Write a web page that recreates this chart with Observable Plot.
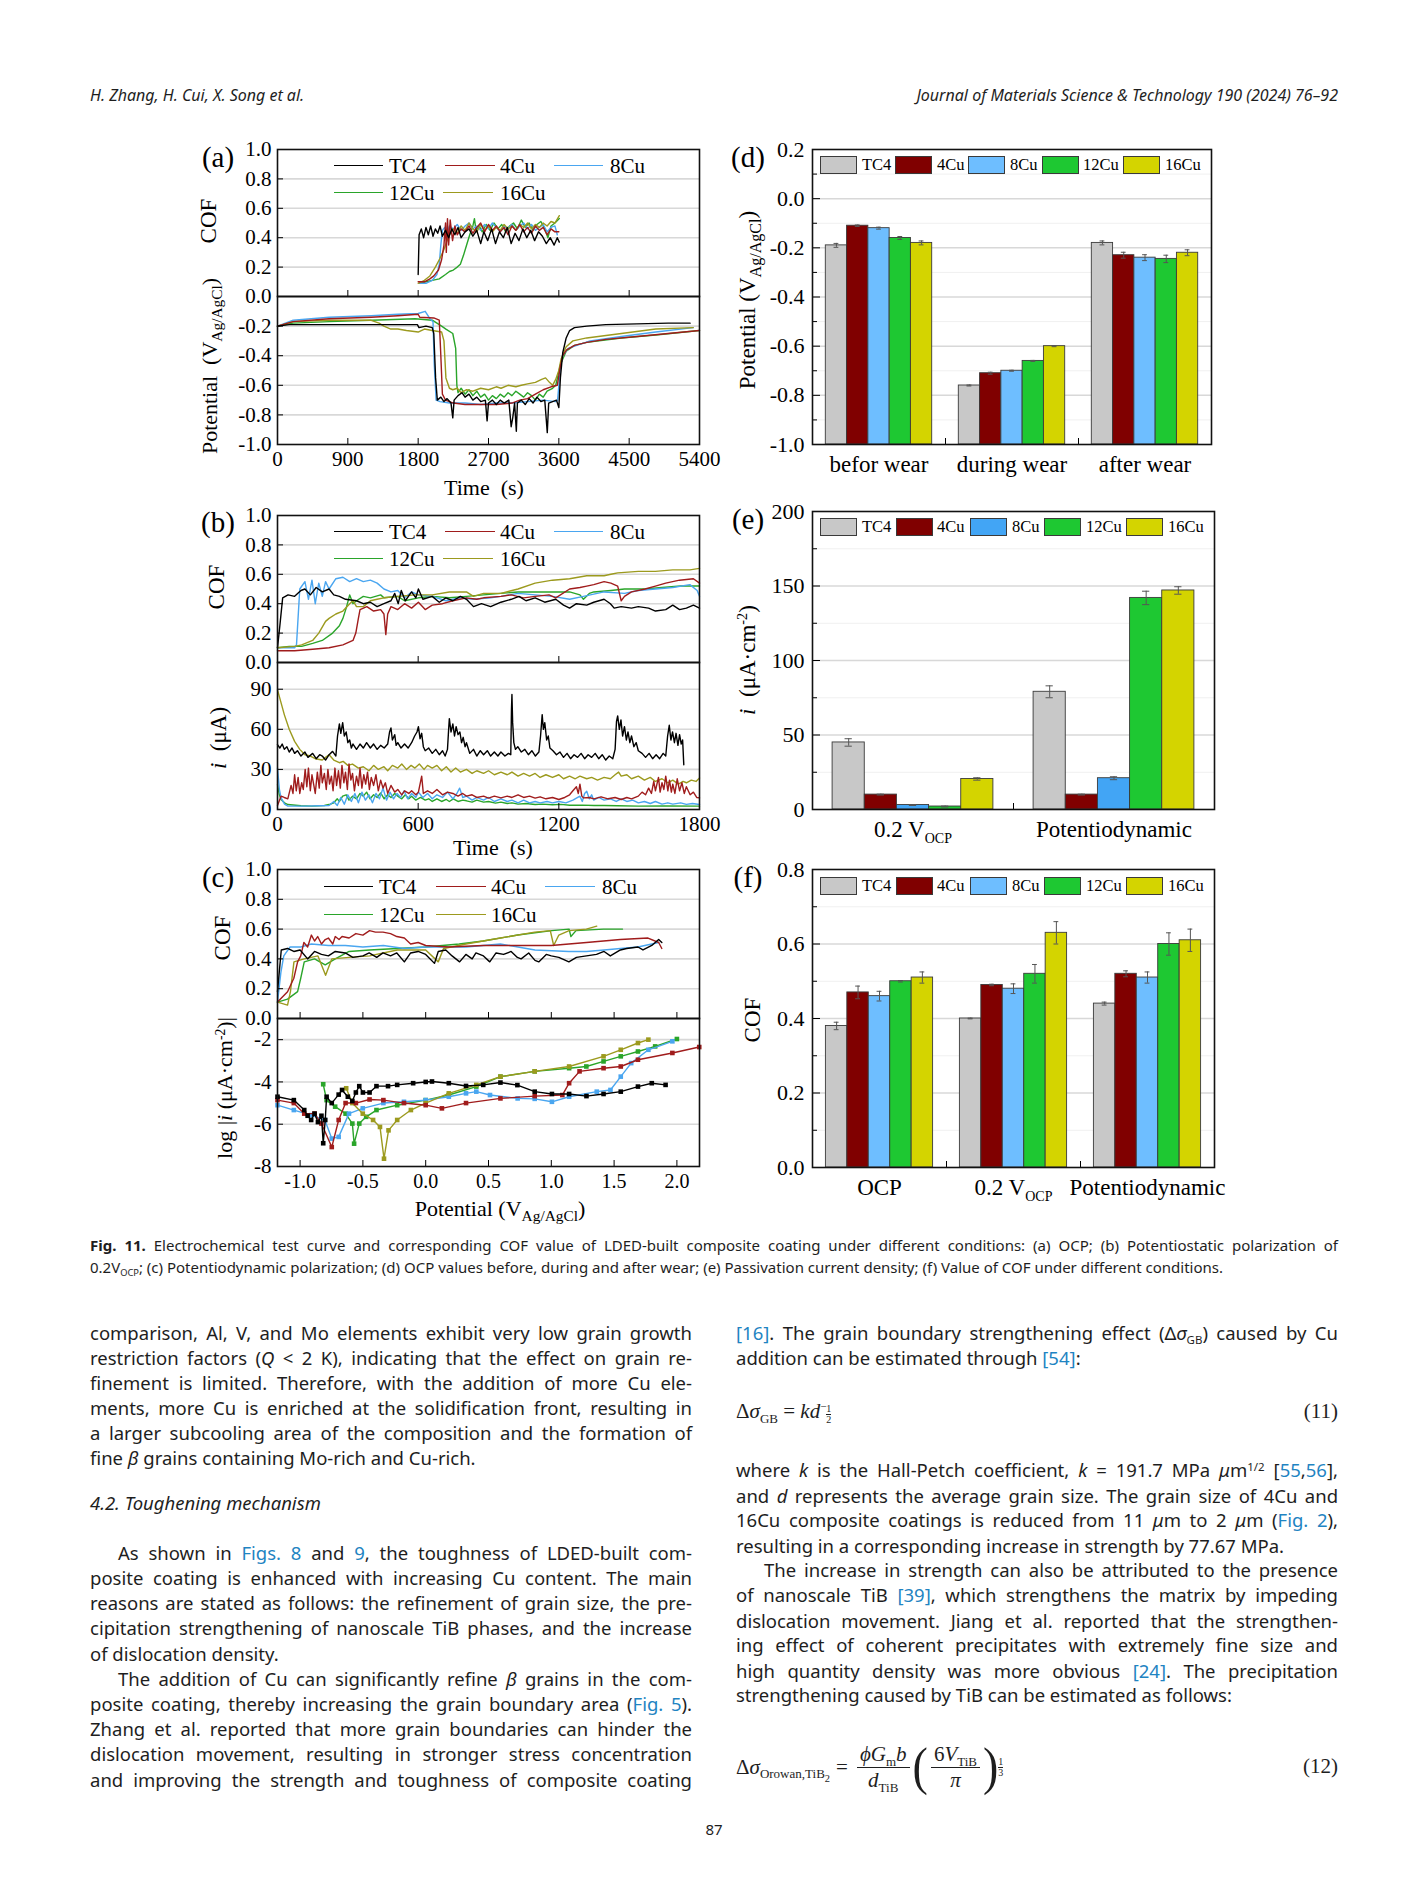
<!DOCTYPE html>
<html><head><meta charset="utf-8">
<script src="https://cdn.jsdelivr.net/npm/d3@7"></script>
<script src="https://cdn.jsdelivr.net/npm/@observablehq/plot@0.6"></script>
<style>
html,body{margin:0;padding:0;background:#fff;}
#page{position:relative;width:1428px;height:1904px;overflow:hidden;background:#fff;}
.abs{position:absolute;white-space:nowrap;}
.ser{font-family:"Liberation Serif","Times New Roman",serif;color:#000;}
.txt{font-family:"Noto Sans","Open Sans",sans-serif;color:#1e1e1e;}
.jl{position:absolute;text-align:justify;text-align-last:justify;line-height:25px;font-size:18.5px;}
.jl.last{text-align:left;text-align-last:left;white-space:nowrap;}
.lk{color:#1f84c2;}
.rot{transform:translate(-50%,-50%) rotate(-90deg);}
.ctr{transform:translate(-50%,-50%);}
sub.s{font-size:62%;vertical-align:-0.35em;line-height:0;}
sub.b{font-size:70%;vertical-align:-0.35em;line-height:0;}
sup.s{font-size:62%;vertical-align:0.55em;line-height:0;}
.eq{font-family:"Liberation Serif","Times New Roman",serif;font-size:21px;color:#1e1e1e;}
.frac{display:inline-flex;flex-direction:column;align-items:center;vertical-align:middle;margin:0 3px;}
.frac>span{padding:0 3px;line-height:25px;}
.frac>span:first-child{border-bottom:1px solid #1e1e1e;}
.sfr{display:inline-flex;flex-direction:column;align-items:center;font-size:10px;line-height:10px;vertical-align:0.6em;}
.sfr>span:first-child{border-bottom:0.8px solid #1e1e1e;}
</style></head><body><div id="page"></div>
<script>
// ---------------- DATA ----------------
const series = ["TC4","4Cu","8Cu","12Cu","16Cu"];
const lineColors = ["#000000","#a01c1c","#4aa6f0","#2aa52a","#9c9a1e"];
const barColors = ["#c8c8c8","#800000","#6ebeff","#1ec832","#d4d400"];
const barColorsE = ["#c8c8c8","#800000","#42a5f5","#1ec832","#d4d400"];

// (a) OCP — COF vs time (s)
const aCof_TC4 = [[1800,0.15],[1812,0.42],[1840,0.46],[1870,0.40],[1900,0.47],[1930,0.42],[1960,0.48],[1990,0.41],[2020,0.46],[2050,0.43],[2080,0.48],[2110,0.41],[2150,0.45],[2190,0.40],[2230,0.46],[2270,0.42],[2310,0.47],[2350,0.40],[2400,0.44],[2450,0.46],[2500,0.41],[2550,0.45],[2600,0.36],[2640,0.44],[2690,0.38],[2740,0.46],[2790,0.36],[2840,0.44],[2890,0.40],[2940,0.47],[2990,0.36],[3040,0.43],[3090,0.38],[3140,0.46],[3190,0.40],[3240,0.45],[3290,0.38],[3340,0.44],[3390,0.41],[3440,0.36],[3490,0.40],[3540,0.35],[3580,0.40],[3606,0.37]];
const aCof_4Cu = [[1800,0.10],[1880,0.10],[1950,0.12],[2000,0.14],[2060,0.18],[2100,0.25],[2130,0.35],[2150,0.50],[2160,0.30],[2175,0.53],[2190,0.35],[2210,0.52],[2240,0.38],[2270,0.48],[2300,0.42],[2350,0.46],[2400,0.44],[2450,0.48],[2500,0.43],[2550,0.47],[2600,0.50],[2650,0.44],[2700,0.49],[2750,0.45],[2800,0.48],[2850,0.44],[2900,0.47],[2950,0.42],[3000,0.48],[3050,0.45],[3100,0.49],[3150,0.44],[3200,0.47],[3250,0.43],[3300,0.48],[3350,0.45],[3400,0.47],[3450,0.42],[3500,0.46],[3550,0.44],[3600,0.44]];
const aCof_8Cu = [[1820,0.09],[1900,0.09],[1980,0.11],[2040,0.15],[2070,0.22],[2090,0.35],[2110,0.45],[2140,0.47],[2170,0.43],[2200,0.48],[2250,0.46],[2300,0.49],[2350,0.45],[2400,0.48],[2450,0.50],[2500,0.46],[2550,0.48],[2600,0.45],[2650,0.49],[2700,0.46],[2750,0.50],[2800,0.47],[2850,0.44],[2900,0.48],[2950,0.46],[3000,0.49],[3050,0.45],[3100,0.48],[3150,0.50],[3200,0.46],[3250,0.49],[3300,0.45],[3350,0.47],[3400,0.49],[3450,0.44],[3500,0.47],[3550,0.48],[3580,0.42]];
const aCof_12Cu = [[1820,0.09],[1900,0.10],[1980,0.11],[2070,0.12],[2150,0.15],[2200,0.17],[2250,0.18],[2300,0.20],[2340,0.22],[2380,0.28],[2420,0.35],[2460,0.42],[2500,0.48],[2520,0.53],[2540,0.45],[2580,0.48],[2620,0.44],[2670,0.49],[2720,0.45],[2770,0.50],[2820,0.46],[2870,0.49],[2920,0.44],[2970,0.48],[3020,0.50],[3070,0.46],[3120,0.52],[3170,0.47],[3220,0.50],[3270,0.45],[3320,0.49],[3370,0.51],[3420,0.46],[3460,0.40],[3500,0.48],[3550,0.50],[3606,0.53]];
const aCof_16Cu = [[1800,0.09],[1880,0.11],[1950,0.14],[2020,0.20],[2080,0.26],[2130,0.32],[2170,0.38],[2200,0.42],[2250,0.46],[2300,0.43],[2350,0.48],[2400,0.45],[2450,0.50],[2500,0.46],[2550,0.44],[2600,0.49],[2650,0.45],[2700,0.48],[2750,0.44],[2800,0.47],[2850,0.45],[2900,0.49],[2950,0.46],[3000,0.48],[3050,0.45],[3100,0.49],[3150,0.47],[3200,0.50],[3250,0.46],[3300,0.49],[3350,0.47],[3400,0.50],[3450,0.48],[3500,0.51],[3550,0.50],[3606,0.55]];
// (a) OCP — potential (V Ag/AgCl) vs time (s)
const aPot_TC4 = [[0,-0.20],[150,-0.19],[600,-0.19],[1200,-0.19],[1790,-0.19],[1810,-0.21],[1900,-0.20],[1980,-0.21],[2000,-0.25],[2023,-0.55],[2045,-0.70],[2090,-0.68],[2130,-0.71],[2170,-0.69],[2220,-0.72],[2243,-0.82],[2260,-0.70],[2310,-0.67],[2360,-0.65],[2400,-0.68],[2450,-0.66],[2500,-0.70],[2550,-0.68],[2600,-0.71],[2660,-0.70],[2682,-0.84],[2700,-0.72],[2750,-0.70],[2800,-0.73],[2850,-0.70],[2900,-0.72],[2960,-0.70],[2990,-0.88],[3010,-0.82],[3034,-0.72],[3056,-0.91],[3070,-0.72],[3120,-0.70],[3170,-0.73],[3220,-0.69],[3270,-0.72],[3320,-0.68],[3370,-0.71],[3420,-0.70],[3452,-0.92],[3470,-0.72],[3520,-0.71],[3570,-0.70],[3600,-0.75],[3620,-0.55],[3650,-0.38],[3694,-0.28],[3738,-0.23],[3800,-0.21],[3957,-0.20],[4200,-0.19],[4600,-0.185],[5000,-0.18],[5280,-0.18]];
const aPot_4Cu = [[0,-0.20],[200,-0.17],[660,-0.15],[1200,-0.14],[1540,-0.13],[1800,-0.12],[1820,-0.14],[2000,-0.145],[2070,-0.16],[2090,-0.40],[2110,-0.66],[2150,-0.70],[2250,-0.72],[2400,-0.73],[2600,-0.73],[2800,-0.73],[3000,-0.72],[3100,-0.70],[3200,-0.69],[3300,-0.66],[3400,-0.63],[3500,-0.61],[3580,-0.60],[3620,-0.47],[3650,-0.40],[3700,-0.36],[3800,-0.33],[3957,-0.31],[4200,-0.29],[4600,-0.27],[5000,-0.25],[5400,-0.23]];
const aPot_8Cu = [[0,-0.20],[200,-0.16],[660,-0.14],[1200,-0.13],[1540,-0.12],[1800,-0.115],[1890,-0.10],[1950,-0.15],[1990,-0.17],[2005,-0.45],[2030,-0.70],[2080,-0.71],[2200,-0.72],[2400,-0.72],[2600,-0.73],[2800,-0.72],[3000,-0.72],[3200,-0.71],[3400,-0.70],[3560,-0.71],[3584,-0.70],[3620,-0.48],[3650,-0.40],[3720,-0.35],[3830,-0.33],[4000,-0.30],[4400,-0.27],[4840,-0.24],[5320,-0.21]];
const aPot_12Cu = [[0,-0.20],[200,-0.18],[660,-0.17],[1200,-0.16],[1760,-0.15],[1980,-0.16],[2100,-0.20],[2155,-0.22],[2243,-0.25],[2280,-0.35],[2295,-0.60],[2310,-0.65],[2350,-0.62],[2400,-0.66],[2450,-0.63],[2500,-0.67],[2550,-0.64],[2600,-0.68],[2650,-0.66],[2700,-0.70],[2750,-0.67],[2800,-0.69],[2850,-0.66],[2900,-0.68],[2950,-0.65],[3000,-0.67],[3050,-0.64],[3100,-0.66],[3150,-0.68],[3200,-0.65],[3250,-0.67],[3300,-0.70],[3350,-0.66],[3400,-0.68],[3450,-0.64],[3520,-0.62],[3560,-0.60],[3620,-0.46],[3694,-0.37],[3800,-0.33],[3957,-0.31],[4400,-0.28],[4840,-0.26],[5400,-0.23]];
const aPot_16Cu = [[0,-0.20],[200,-0.17],[660,-0.16],[1000,-0.16],[1190,-0.16],[1300,-0.18],[1360,-0.20],[1450,-0.22],[1540,-0.22],[1650,-0.23],[1800,-0.24],[1880,-0.22],[1980,-0.23],[2100,-0.24],[2130,-0.30],[2155,-0.55],[2200,-0.62],[2243,-0.63],[2300,-0.62],[2350,-0.65],[2420,-0.63],[2500,-0.64],[2600,-0.62],[2700,-0.63],[2800,-0.61],[2860,-0.62],[2950,-0.60],[3050,-0.61],[3120,-0.60],[3200,-0.59],[3300,-0.58],[3380,-0.56],[3430,-0.55],[3480,-0.58],[3520,-0.60],[3560,-0.56],[3600,-0.50],[3630,-0.42],[3694,-0.34],[3780,-0.30],[3957,-0.28],[4400,-0.25],[4840,-0.22],[5320,-0.21]];

// (b) 0.2 V OCP — COF vs time (s)
const bCof_TC4 = [[0,0.10],[10,0.25],[22,0.44],[45,0.46],[73,0.45],[100,0.49],[117,0.50],[140,0.46],[165,0.51],[191,0.48],[220,0.50],[240,0.46],[264,0.45],[290,0.43],[337,0.42],[366,0.40],[396,0.41],[425,0.38],[454,0.40],[484,0.42],[500,0.47],[515,0.40],[528,0.49],[545,0.42],[572,0.48],[590,0.44],[601,0.50],[620,0.43],[660,0.45],[690,0.41],[718,0.44],[748,0.42],[780,0.45],[806,0.43],[836,0.38],[870,0.40],[909,0.38],[953,0.41],[997,0.43],[1030,0.45],[1060,0.42],[1099,0.44],[1140,0.41],[1187,0.43],[1220,0.39],[1246,0.37],[1275,0.40],[1319,0.39],[1349,0.41],[1393,0.43],[1420,0.40],[1436,0.37],[1466,0.38],[1510,0.37],[1539,0.38],[1583,0.37],[1612,0.35],[1656,0.36],[1686,0.39],[1715,0.36],[1744,0.37],[1774,0.39],[1800,0.37]];
const bCof_4Cu = [[0,0.08],[73,0.08],[150,0.09],[220,0.10],[279,0.12],[322,0.15],[334,0.20],[345,0.30],[352,0.36],[381,0.38],[410,0.35],[440,0.36],[454,0.33],[462,0.19],[470,0.33],[484,0.38],[513,0.36],[542,0.40],[572,0.37],[601,0.41],[630,0.36],[660,0.39],[704,0.40],[748,0.42],[806,0.44],[850,0.43],[879,0.44],[953,0.45],[997,0.46],[1050,0.44],[1099,0.45],[1158,0.46],[1187,0.44],[1246,0.50],[1290,0.51],[1319,0.52],[1349,0.53],[1393,0.55],[1422,0.54],[1451,0.52],[1466,0.42],[1480,0.45],[1510,0.48],[1568,0.50],[1612,0.52],[1656,0.54],[1715,0.56],[1774,0.57],[1800,0.54]];
const bCof_8Cu = [[0,0.10],[73,0.10],[81,0.12],[95,0.50],[117,0.55],[132,0.43],[147,0.56],[161,0.40],[176,0.54],[191,0.45],[205,0.55],[220,0.50],[249,0.57],[279,0.58],[308,0.55],[337,0.57],[366,0.55],[396,0.56],[425,0.54],[454,0.50],[484,0.48],[513,0.49],[542,0.44],[572,0.48],[601,0.46],[660,0.45],[718,0.42],[777,0.44],[836,0.43],[909,0.44],[953,0.45],[1026,0.47],[1099,0.46],[1173,0.45],[1246,0.43],[1305,0.45],[1393,0.48],[1480,0.47],[1539,0.49],[1612,0.50],[1686,0.51],[1759,0.53],[1790,0.49],[1800,0.45]];
const bCof_12Cu = [[0,0.10],[50,0.11],[103,0.11],[150,0.13],[191,0.15],[235,0.20],[264,0.25],[279,0.30],[293,0.37],[308,0.46],[322,0.40],[337,0.42],[366,0.45],[396,0.44],[440,0.46],[454,0.44],[513,0.45],[542,0.42],[601,0.44],[660,0.45],[733,0.44],[806,0.45],[879,0.46],[953,0.47],[1026,0.48],[1099,0.48],[1173,0.48],[1246,0.48],[1290,0.46],[1305,0.43],[1330,0.47],[1349,0.48],[1422,0.49],[1480,0.50],[1568,0.50],[1640,0.51],[1720,0.52],[1800,0.52]];
const bCof_16Cu = [[0,0.10],[73,0.11],[103,0.12],[150,0.15],[176,0.20],[205,0.28],[220,0.30],[249,0.33],[279,0.35],[308,0.40],[322,0.42],[337,0.38],[366,0.38],[396,0.42],[425,0.43],[454,0.44],[513,0.45],[586,0.46],[660,0.46],[733,0.48],[806,0.48],[836,0.45],[879,0.47],[953,0.47],[1026,0.50],[1099,0.54],[1173,0.56],[1246,0.57],[1319,0.59],[1393,0.59],[1422,0.60],[1451,0.61],[1539,0.62],[1612,0.62],[1686,0.63],[1759,0.63],[1800,0.64]];
// (b) current i (μA) vs time (s)
const bCur_TC4 = [[0,48.5],[10,46],[20,49],[29,45],[40,47],[50,43],[62,46],[73,42],[85,44],[100,40],[117,43],[130,39],[150,42],[165,38],[180,41],[191,40],[205,37],[220,41],[235,43.5],[249,40],[256,55],[264,64],[270,57],[278,65],[285,55],[293,58],[300,50],[308,52],[315,46],[322,49],[337,45],[352,49],[366,46],[380,50],[396,46],[410,49],[425,45],[440,48],[455,46],[470,49],[478,58],[484,61],[490,52],[500,56],[506,48],[513,50],[527,46],[542,49],[557,46],[572,50],[585,55],[595,58],[601,62],[608,53],[615,57],[622,47],[630,44],[645,46],[660,42],[675,45],[690,41],[704,44],[715,40],[725,45],[730,60],[733,68],[740,58],[748,64],[755,55],[762,62],[770,56],[778,58],[785,50],[792,54],[800,47],[806,50],[820,42],[836,45],[850,40],[865,44],[879,41],[895,44],[909,40],[925,43],[940,40],[953,43],[970,40],[985,42],[995,41],[998,75],[1000,86],[1003,65],[1008,50],[1015,45],[1025,47],[1040,43],[1055,45],[1070,41],[1085,44],[1100,40],[1115,43],[1122,55],[1129,71],[1134,60],[1140,65],[1148,52],[1155,55],[1162,46],[1175,44],[1190,41],[1205,43],[1220,39],[1235,42],[1250,38],[1265,41],[1280,39],[1295,42],[1310,38],[1325,41],[1340,39],[1355,42],[1370,38],[1385,41],[1400,37],[1415,40],[1430,38],[1440,45],[1446,66],[1451,70],[1458,60],[1465,67],[1472,55],[1480,62],[1488,52],[1495,58],[1503,50],[1510,55],[1520,47],[1530,50],[1539,44],[1555,42],[1570,39],[1585,42],[1600,38],[1615,41],[1630,38],[1645,42],[1656,40],[1664,55],[1671,63],[1678,52],[1685,58],[1693,50],[1700,57],[1708,48],[1715,56],[1722,49],[1728,52],[1733,33.5]];
const bCur_4Cu = [[0,3],[15,10],[29,9],[44,8],[58,18],[66,12],[73,26],[80,14],[88,24],[95,12],[103,20],[110,15],[118,30],[125,17],[132,31],[140,14],[147,26],[155,18],[161,12],[170,28],[178,16],[185,33],[191,20],[200,27],[208,15],[215,30],[222,19],[230,25],[237,14],[245,31],[252,18],[260,29],[268,16],[275,33],[283,20],[290,28],[298,15],[305,34],[313,22],[320,27],[328,14],[337,25],[345,18],[352,31],[360,16],[368,26],[376,19],[384,28],[392,15],[400,24],[410,18],[420,26],[430,14],[440,22],[450,16],[460,20],[470,12],[484,18],[500,13],[513,15],[530,11],[542,14],[560,12],[572,14],[590,11],[601,13],[615,25],[622,12],[640,14],[660,12],[680,15],[704,11],[725,13],[748,12],[770,10],[790,12],[806,10],[830,11],[850,9],[879,10],[900,8.5],[925,10],[953,8.7],[980,10],[1000,9],[1026,11],[1050,9],[1075,10],[1099,8.5],[1120,9.5],[1145,8],[1173,9],[1200,7.5],[1225,9],[1246,11],[1260,14],[1275,17],[1283,12],[1290,19],[1298,10],[1305,8.7],[1330,9],[1350,8],[1380,9.5],[1410,8],[1440,9],[1466,7.5],[1490,9],[1510,8],[1539,10],[1555,13],[1570,11],[1583,16],[1595,12],[1605,21],[1612,14],[1625,24],[1632,13],[1640,20],[1648,15],[1656,25],[1665,14],[1672,22],[1680,13],[1686,19],[1695,12],[1705,23],[1715,14],[1725,20],[1735,12],[1744,17],[1760,11],[1774,13],[1788,9],[1800,8.7]];
const bCur_8Cu = [[0,31],[8,15],[15,8.7],[30,4],[44,2.5],[117,2.5],[180,2.8],[220,3],[240,6],[255,3],[270,9],[285,4],[300,11],[315,6],[330,12],[345,5],[360,13],[375,7],[390,11],[405,5],[420,12],[435,8],[450,16],[465,7],[480,13],[495,8],[510,12],[525,9],[540,14],[555,8],[572,12],[590,9],[601,13],[620,9],[640,12],[660,8],[680,11],[704,9],[725,13],[748,8],[765,12],[777,16],[790,9],[806,10],[830,7],[850,9],[879,7],[900,9],[925,6],[953,8],[980,6],[1000,7],[1026,5],[1050,7],[1075,5],[1099,6],[1120,5],[1150,6],[1173,5],[1200,6],[1230,5],[1260,7],[1290,10],[1300,6],[1310,12],[1319,13.7],[1330,8],[1340,11],[1349,7],[1370,9],[1393,7],[1420,8],[1445,6],[1466,8],[1490,6],[1515,7],[1539,5],[1565,6],[1590,4.5],[1612,6],[1640,4],[1665,5],[1686,4],[1720,5],[1744,3.8],[1770,4.5],[1800,3.7]];
const bCur_12Cu = [[0,18.6],[8,11],[15,7.5],[30,5],[44,3.7],[100,2.8],[147,2.5],[200,3],[220,3.7],[240,5],[255,8],[264,6],[278,10],[293,11],[305,7],[320,10],[337,8],[352,12],[366,10],[380,13],[395,8],[410,11],[425,9],[440,12.4],[455,8],[470,11],[484,9],[500,12],[513,10],[530,8],[545,11],[560,8],[572,10],[590,7],[610,9],[630,7],[645,8],[660,6],[680,8],[700,6],[720,7.5],[733,6],[750,8],[770,6],[790,7],[806,6.5],[830,5.5],[850,7],[879,5.5],[900,6],[930,4.8],[953,5.5],[980,4.5],[1000,5],[1026,4],[1060,4.5],[1099,3.7],[1130,4],[1173,3.5],[1210,3.8],[1246,3.2],[1300,3.3],[1350,3],[1393,3],[1450,2.8],[1539,2.5],[1650,2.6],[1800,2.5]];
const bCur_16Cu = [[0,89.5],[15,80],[29,71],[50,60],[73,51],[95,45],[117,41],[140,40],[161,38],[191,37],[205,39],[220,41],[240,37],[264,35],[280,36],[300,33],[320,34],[345,31],[366,32],[390,29],[410,33],[430,30],[454,32],[470,29],[490,33],[513,31],[530,34],[550,30],[570,33],[586,31],[605,34],[625,30],[640,33],[660,31],[680,33],[700,29],[720,32],[740,28],[760,31],[780,28],[806,30],[830,27],[850,29],[879,27],[900,29],[925,26],[953,28],[980,26],[1000,28],[1026,25],[1050,27],[1075,25],[1099,27],[1120,24],[1145,26],[1173,24],[1200,26],[1220,23],[1246,25],[1270,23],[1290,25],[1319,23],[1340,24],[1365,22],[1393,24],[1420,23],[1440,26],[1455,28],[1466,25],[1490,26],[1510,23],[1539,25],[1565,22],[1590,24],[1612,21],[1640,23],[1665,20],[1686,22],[1710,19],[1730,21],[1744,20],[1765,22],[1785,21],[1800,23.6]];

// (c) Potentiodynamic — COF vs potential (V)
const cCof_TC4 = [[-1.18,0.18],[-1.15,0.46],[-1.10,0.47],[-1.05,0.45],[-1.0,0.46],[-0.94,0.40],[-0.885,0.45],[-0.83,0.43],[-0.775,0.42],[-0.72,0.45],[-0.64,0.44],[-0.58,0.41],[-0.50,0.42],[-0.45,0.44],[-0.39,0.41],[-0.34,0.44],[-0.28,0.42],[-0.23,0.44],[-0.17,0.38],[-0.12,0.44],[-0.06,0.45],[0.0,0.43],[0.07,0.37],[0.10,0.45],[0.16,0.46],[0.21,0.42],[0.27,0.38],[0.32,0.43],[0.37,0.40],[0.40,0.44],[0.46,0.42],[0.51,0.38],[0.56,0.44],[0.62,0.43],[0.68,0.45],[0.73,0.41],[0.76,0.40],[0.82,0.44],[0.87,0.39],[0.90,0.38],[0.96,0.43],[1.0,0.42],[1.06,0.41],[1.14,0.38],[1.2,0.41],[1.28,0.42],[1.36,0.43],[1.42,0.45],[1.47,0.42],[1.55,0.46],[1.6,0.47],[1.69,0.48],[1.73,0.46],[1.80,0.49],[1.855,0.53],[1.88,0.51]];
const cCof_4Cu = [[-1.18,0.11],[-1.10,0.18],[-1.05,0.27],[-1.02,0.38],[-0.995,0.42],[-0.97,0.51],[-0.94,0.48],[-0.91,0.56],[-0.885,0.52],[-0.86,0.55],[-0.83,0.50],[-0.80,0.53],[-0.775,0.54],[-0.74,0.50],[-0.72,0.55],[-0.69,0.53],[-0.666,0.55],[-0.61,0.54],[-0.556,0.57],[-0.50,0.56],[-0.447,0.59],[-0.40,0.58],[-0.34,0.58],[-0.28,0.57],[-0.23,0.55],[-0.17,0.54],[-0.12,0.50],[-0.06,0.51],[0.0,0.49],[0.18,0.48],[0.46,0.49],[0.73,0.49],[1.0,0.49],[1.28,0.51],[1.55,0.53],[1.77,0.54],[1.855,0.51],[1.88,0.47]];
const cCof_8Cu = [[-1.18,0.11],[-1.153,0.31],[-1.13,0.42],[-1.08,0.48],[-0.995,0.48],[-0.91,0.50],[-0.775,0.49],[-0.64,0.49],[-0.50,0.48],[-0.337,0.49],[-0.17,0.47],[0.0,0.48],[0.32,0.48],[0.595,0.50],[0.87,0.46],[1.14,0.45],[1.28,0.45],[1.42,0.46],[1.55,0.47],[1.69,0.48],[1.855,0.51]];
const cCof_12Cu = [[-1.18,0.11],[-1.10,0.13],[-1.02,0.18],[-0.995,0.27],[-0.967,0.38],[-0.885,0.40],[-0.80,0.36],[-0.72,0.40],[-0.61,0.45],[-0.447,0.46],[-0.227,0.47],[0.0,0.48],[0.266,0.50],[0.458,0.52],[0.732,0.56],[1.005,0.59],[1.142,0.60],[1.156,0.55],[1.197,0.59],[1.416,0.60],[1.567,0.60]];
const cCof_16Cu = [[-1.18,0.11],[-1.10,0.09],[-1.077,0.18],[-1.049,0.38],[-0.967,0.40],[-0.858,0.42],[-0.797,0.29],[-0.748,0.40],[-0.611,0.41],[-0.447,0.42],[-0.227,0.46],[0.0,0.46],[0.10,0.38],[0.142,0.47],[0.321,0.50],[0.595,0.54],[0.868,0.58],[0.992,0.59],[1.019,0.49],[1.06,0.56],[1.142,0.59],[1.279,0.60],[1.362,0.62]];
// (c) log|i| (μA·cm-2) vs potential (V)
const cLog_TC4 = [[-1.18,-4.7],[-1.05,-4.86],[-0.967,-5.33],[-0.94,-5.6],[-0.912,-5.8],[-0.885,-5.5],[-0.858,-5.9],[-0.83,-5.6],[-0.816,-6.9],[-0.80,-5.8],[-0.789,-4.7],[-0.748,-5.0],[-0.693,-4.6],[-0.666,-4.38],[-0.62,-4.7],[-0.584,-4.9],[-0.556,-4.5],[-0.529,-4.2],[-0.50,-4.5],[-0.447,-4.5],[-0.392,-4.2],[-0.30,-4.2],[-0.227,-4.14],[-0.10,-4.06],[0.0,-4.0],[0.05,-3.98],[0.184,-4.06],[0.321,-4.19],[0.458,-4.14],[0.595,-4.03],[0.73,-4.15],[0.868,-4.46],[1.005,-4.57],[1.142,-4.57],[1.28,-4.67],[1.416,-4.57],[1.553,-4.46],[1.69,-4.22],[1.80,-4.06],[1.91,-4.14]];
const cLog_4Cu = [[-1.18,-4.86],[-1.05,-5.0],[-0.967,-5.5],[-0.885,-5.5],[-0.83,-5.97],[-0.748,-7.08],[-0.693,-5.8],[-0.638,-5.0],[-0.556,-5.0],[-0.447,-4.83],[-0.337,-4.86],[-0.173,-5.0],[0.0,-5.1],[0.129,-5.25],[0.321,-5.0],[0.595,-4.78],[0.868,-4.67],[1.088,-4.62],[1.142,-4.06],[1.225,-3.5],[1.416,-3.35],[1.553,-3.27],[1.69,-2.95],[1.964,-2.63],[2.178,-2.35]];
const cLog_8Cu = [[-1.18,-5.1],[-1.05,-5.33],[-0.912,-5.57],[-0.803,-5.8],[-0.748,-6.68],[-0.693,-6.6],[-0.611,-5.5],[-0.501,-5.25],[-0.337,-5.0],[-0.173,-4.94],[0.0,-4.86],[0.184,-4.7],[0.321,-4.54],[0.403,-4.46],[0.512,-4.62],[0.732,-4.78],[0.868,-4.8],[1.005,-4.94],[1.142,-4.7],[1.362,-4.46],[1.471,-4.38],[1.553,-3.75],[1.636,-3.11],[1.773,-2.48],[1.964,-2.08]];
const cLog_12Cu = [[-0.816,-4.11],[-0.789,-4.86],[-0.721,-5.17],[-0.638,-5.5],[-0.584,-5.97],[-0.570,-6.92],[-0.529,-5.97],[-0.474,-5.65],[-0.392,-5.33],[-0.227,-5.1],[0.0,-4.86],[0.184,-4.62],[0.403,-4.22],[0.595,-3.75],[0.868,-3.5],[1.142,-3.35],[1.279,-3.27],[1.416,-3.03],[1.553,-2.79],[1.69,-2.56],[1.827,-2.32],[2.0,-1.97]];
const cLog_16Cu = [[-0.633,-4.3],[-0.584,-5.0],[-0.501,-5.5],[-0.419,-5.8],[-0.364,-6.13],[-0.332,-7.63],[-0.296,-6.29],[-0.227,-5.8],[-0.118,-5.33],[0.0,-5.0],[0.184,-4.54],[0.403,-4.14],[0.595,-3.75],[0.868,-3.5],[1.142,-3.27],[1.416,-2.79],[1.553,-2.48],[1.69,-2.16],[1.773,-2.0]];

// (d) OCP values before/during/after wear
const dGroups = ["befor wear","during wear","after wear"];
const dVal = [[-0.19,-0.76,-0.18],[-0.11,-0.71,-0.23],[-0.12,-0.70,-0.24],[-0.16,-0.66,-0.245],[-0.18,-0.60,-0.22]];
const dErr = [[0.008,0.002,0.008],[0.003,0.004,0.012],[0.004,0.002,0.012],[0.006,0.002,0.015],[0.008,0.002,0.012]];
// (e) passivation current density
const eGroups = ["0.2 V_OCP","Potentiodynamic"];
const eVal = [[45,79],[10,10],[3,21],[2,142],[20.5,147]];
const eErr = [[2.5,4],[0.3,0.3],[0.3,1],[0.3,4.5],[0.8,2.5]];
// (f) COF under different conditions
const fGroups = ["OCP","0.2 V_OCP","Potentiodynamic"];
const fVal = [[0.38,0.40,0.44],[0.47,0.49,0.52],[0.46,0.48,0.51],[0.50,0.52,0.60],[0.51,0.63,0.61]];
const fErr = [[0.01,0.001,0.004],[0.017,0.002,0.008],[0.013,0.013,0.015],[0.002,0.025,0.03],[0.015,0.03,0.03]];

// ---------------- HELPERS ----------------
const page = document.getElementById("page");
const SER = '"Liberation Serif","Times New Roman",serif';
function place(node, x, y, w) {
  const d = document.createElement("div");
  d.style.cssText = `position:absolute;left:${x}px;top:${y}px;width:${w}px;`;
  d.appendChild(node); page.appendChild(d);
}
function html(s, style, cls) {
  const d = document.createElement("div");
  d.className = "abs " + (cls || "");
  d.style.cssText = style; d.innerHTML = s; page.appendChild(d); return d;
}
const f1 = d => d.toFixed(1);
const f0 = d => String(d);

function linePlot(o) {
  const ml = 75, mr = 20, mt = 16, mb = o.xTicks ? 48 : 16;
  const W = o.fx2 - o.fx1, H = o.fy2 - o.fy1;
  const fs = o.xfs || 21;
  const marks = [];
  marks.push(Plot.ruleY(o.grid, {y: d => d, stroke: "#d8d8d8", strokeWidth: 1.6}));
  for (const [arr, col] of o.lines) {
    marks.push(Plot.line(arr, {x: d => d[0], y: d => d[1], stroke: col, strokeWidth: 1.4}));
    if (o.markers) marks.push(Plot.dot(arr, {x: d => d[0], y: d => d[1], symbol: "square", r: 2.6, fill: col}));
  }
  marks.push(Plot.tickY(o.yTicks, {y: d => d, insetRight: W - 6, stroke: "#000"}));
  marks.push(Plot.tickX(o.xTickMarks, {x: d => d, insetTop: H - 6, stroke: "#000"}));
  marks.push(Plot.axisY({ticks: o.yTicks, tickFormat: o.yFmt, tickSize: 0, tickPadding: 6, fontSize: 21, label: null}));
  if (o.xTicks) marks.push(Plot.axisX({ticks: o.xTicks, tickFormat: o.xFmt, tickSize: 0, tickPadding: 7, fontSize: fs, label: null}));
  marks.push(Plot.frame({stroke: "#111", strokeWidth: 1.6}));
  const svg = Plot.plot({
    width: W + ml + mr, height: H + mt + mb,
    marginLeft: ml, marginRight: mr, marginTop: mt, marginBottom: mb,
    x: o.xTicks ? {domain: o.xDomain} : {domain: o.xDomain, axis: null},
    y: {domain: o.yDomain},
    style: {fontFamily: SER, fontSize: "21px", color: "#000", background: "transparent", overflow: "visible"},
    marks
  });
  place(svg, o.fx1 - ml, o.fy1 - mt, W + ml + mr);
}

function barPlot(o) {
  const ml = 75, mr = 14, mt = 16, mb = 58;
  const W = o.fx2 - o.fx1, H = o.fy2 - o.fy1;
  const rows = [];
  o.groups.forEach((g, gi) => series.forEach((s, si) => rows.push({gi, si, v: o.vals[si][gi], e: o.errs[si][gi]})));
  const bw = 0.16, off = 0.1, cap = 0.018;
  const X1 = d => d.gi + off + d.si * bw, X2 = d => d.gi + off + (d.si + 1) * bw, XC = d => d.gi + off + (d.si + 0.5) * bw;
  const marks = [
    Plot.ruleY(o.minor, {y: d => d, stroke: "#f0f0f0", strokeWidth: 1}),
    Plot.ruleY(o.grid, {y: d => d, stroke: "#d8d8d8", strokeWidth: 1.5}),
    Plot.rectY(rows, {x1: X1, x2: X2, y1: () => o.base, y2: d => d.v, fill: d => o.colors[d.si], stroke: "#3a3a3a", strokeWidth: 0.9}),
    Plot.ruleX(rows, {x: XC, y1: d => d.v - d.e, y2: d => d.v + d.e, stroke: "#555", strokeWidth: 1}),
    Plot.ruleY(rows, {y: d => d.v + d.e, x1: d => XC(d) - cap, x2: d => XC(d) + cap, stroke: "#555", strokeWidth: 1}),
    Plot.ruleY(rows, {y: d => d.v - d.e, x1: d => XC(d) - cap, x2: d => XC(d) + cap, stroke: "#555", strokeWidth: 1}),
    Plot.tickY(o.minor, {y: d => d, insetRight: W - 5, stroke: "#000"}),
    Plot.tickY(o.yTicks, {y: d => d, insetRight: W - 8, stroke: "#000"}),
    Plot.tickX(o.groups.slice(1).map((g, i) => i + 1), {x: d => d, insetTop: H - 6, stroke: "#000"}),
    Plot.axisY({ticks: o.yTicks, tickFormat: o.yFmt, tickSize: 0, tickPadding: 8, fontSize: 22, label: null}),
    Plot.axisX({ticks: o.groups.map((g, i) => i + 0.5), tickFormat: v => o.groups[Math.floor(v)], tickSize: 0, tickPadding: 11, fontSize: 23, label: null}),
    Plot.frame({stroke: "#111", strokeWidth: 1.6})
  ];
  const svg = Plot.plot({
    width: W + ml + mr, height: H + mt + mb,
    marginLeft: ml, marginRight: mr, marginTop: mt, marginBottom: mb,
    x: {domain: [0, o.groups.length]}, y: {domain: o.yDomain},
    color: {type: "identity"},
    style: {fontFamily: SER, fontSize: "22px", color: "#000", background: "transparent", overflow: "visible"},
    marks
  });
  d3.select(svg).selectAll("text").each(function () {
    if (this.textContent === "0.2 V_OCP") {
      this.textContent = "";
      d3.select(this).append("tspan").text("0.2 V");
      d3.select(this).append("tspan").attr("font-size", 14).attr("dy", "0.45em").text("OCP");
    }
  });
  place(svg, o.fx1 - ml, o.fy1 - mt, W + ml + mr);
  series.forEach((s, i) => {
    html("", `left:${o.legBox[i]}px;top:${o.legY - 9}px;width:37px;height:18px;background:${o.colors[i]};border:1px solid #3a3a3a;box-sizing:border-box;`);
    html(s, `left:${o.legTxt[i]}px;top:${o.legY}px;font-size:16.5px;transform:translateY(-50%);`, "ser");
  });
}

function lineLegend(rows) {
  for (const [label, ci, x1, x2, tx, y] of rows) {
    html("", `left:${x1}px;top:${y - 1}px;width:${x2 - x1}px;height:0;border-top:1.6px solid ${lineColors[ci]};`);
    html(label, `left:${tx}px;top:${y}px;font-size:21px;transform:translateY(-50%);`, "ser");
  }
}
const legAB = y => [["TC4",0,334,383,389,y],["4Cu",1,445,495,500,y],["8Cu",2,554,603,610,y],["12Cu",3,334,383,389,y+27],["16Cu",4,443,493,500,y+27]];
const legC = y => [["TC4",0,324,373,379,y],["4Cu",1,436,486,491,y],["8Cu",2,545,595,602,y],["12Cu",3,324,373,379,y+28],["16Cu",4,436,486,491,y+28]];

// ---------------- PANEL (a) ----------------
const order = [3, 2, 4, 1, 0];
const pick = arrs => order.map(i => [arrs[i], lineColors[i]]);
linePlot({fx1: 277, fx2: 699, fy1: 149, fy2: 296, xDomain: [0, 5400], yDomain: [0, 1],
  grid: [0.2, 0.4, 0.6, 0.8], yTicks: [0, 0.2, 0.4, 0.6, 0.8, 1.0], yFmt: f1, xTickMarks: [900, 1800, 2700, 3600, 4500],
  lines: pick([aCof_TC4, aCof_4Cu, aCof_8Cu, aCof_12Cu, aCof_16Cu])});
linePlot({fx1: 277, fx2: 699, fy1: 296, fy2: 444, xDomain: [0, 5400], yDomain: [-1, 0],
  grid: [-0.2, -0.4, -0.6, -0.8], yTicks: [-1.0, -0.8, -0.6, -0.4, -0.2], yFmt: f1, xTickMarks: [900, 1800, 2700, 3600, 4500],
  xTicks: [0, 900, 1800, 2700, 3600, 4500, 5400], xFmt: f0,
  lines: pick([aPot_TC4, aPot_4Cu, aPot_8Cu, aPot_12Cu, aPot_16Cu])});
lineLegend(legAB(166));

// ---------------- PANEL (b) ----------------
linePlot({fx1: 277, fx2: 699, fy1: 515, fy2: 662, xDomain: [0, 1800], yDomain: [0, 1],
  grid: [0.2, 0.4, 0.6, 0.8], yTicks: [0, 0.2, 0.4, 0.6, 0.8, 1.0], yFmt: f1, xTickMarks: [600, 1200],
  lines: pick([bCof_TC4, bCof_4Cu, bCof_8Cu, bCof_12Cu, bCof_16Cu])});
linePlot({fx1: 277, fx2: 699, fy1: 662, fy2: 809, xDomain: [0, 1800], yDomain: [0, 110],
  grid: [30, 60, 90], yTicks: [0, 30, 60, 90], yFmt: f0, xTickMarks: [600, 1200],
  xTicks: [0, 600, 1200, 1800], xFmt: f0,
  lines: pick([bCur_TC4, bCur_4Cu, bCur_8Cu, bCur_12Cu, bCur_16Cu])});
lineLegend(legAB(532));

// ---------------- PANEL (c) ----------------
linePlot({fx1: 277, fx2: 699, fy1: 869, fy2: 1018, xDomain: [-1.18, 2.18], yDomain: [0, 1],
  grid: [0.2, 0.4, 0.6, 0.8], yTicks: [0, 0.2, 0.4, 0.6, 0.8, 1.0], yFmt: f1, xTickMarks: [-1, -0.5, 0, 0.5, 1, 1.5, 2],
  lines: pick([cCof_TC4, cCof_4Cu, cCof_8Cu, cCof_12Cu, cCof_16Cu])});
linePlot({fx1: 277, fx2: 699, fy1: 1018, fy2: 1166, xDomain: [-1.18, 2.18], yDomain: [-8, -1],
  grid: [-2, -4, -6], yTicks: [-8, -6, -4, -2], yFmt: f0, xTickMarks: [-1, -0.5, 0, 0.5, 1, 1.5, 2],
  xTicks: [-1, -0.5, 0, 0.5, 1, 1.5, 2], xFmt: f1, markers: true, xfs: 20,
  lines: pick([cLog_TC4, cLog_4Cu, cLog_8Cu, cLog_12Cu, cLog_16Cu])});
lineLegend(legC(887));

// ---------------- PANELS (d)(e)(f) ----------------
barPlot({fx1: 812, fx2: 1211, fy1: 149, fy2: 444, groups: dGroups, vals: dVal, errs: dErr, colors: barColors,
  yDomain: [-1.0, 0.2], base: -1.0, yTicks: [0.2, 0.0, -0.2, -0.4, -0.6, -0.8, -1.0], yFmt: f1,
  grid: [0.0, -0.2, -0.4, -0.6, -0.8], minor: [0.1, -0.1, -0.3, -0.5, -0.7, -0.9],
  legBox: [820, 895, 968, 1042, 1123], legTxt: [862, 937, 1010, 1083, 1165], legY: 165});
barPlot({fx1: 812, fx2: 1214, fy1: 511, fy2: 809, groups: eGroups, vals: eVal, errs: eErr, colors: barColorsE,
  yDomain: [0, 200], base: 0, yTicks: [0, 50, 100, 150, 200], yFmt: f0,
  grid: [50, 100, 150], minor: [25, 75, 125, 175],
  legBox: [820, 896, 970, 1044, 1126], legTxt: [862, 937, 1012, 1086, 1168], legY: 527});
barPlot({fx1: 812, fx2: 1214, fy1: 869, fy2: 1167, groups: fGroups, vals: fVal, errs: fErr, colors: barColors,
  yDomain: [0, 0.8], base: 0, yTicks: [0, 0.2, 0.4, 0.6, 0.8], yFmt: f1,
  grid: [0.2, 0.4, 0.6], minor: [0.1, 0.3, 0.5, 0.7],
  legBox: [820, 896, 970, 1044, 1126], legTxt: [862, 937, 1012, 1086, 1168], legY: 886});

// ---------------- AXIS TITLES & PANEL LETTERS ----------------
const ylab = (s, x, y, fs) => html(s, `left:${x}px;top:${y}px;font-size:${fs || 23}px;`, "ser rot");
const xlab = (s, x, y) => html(s, `left:${x}px;top:${y}px;font-size:22px;`, "ser ctr");
ylab("COF", 209, 221);
ylab('Potential&nbsp; (V<sub class="b">Ag/AgCl</sub>)', 210, 366, 22);
ylab("COF", 217, 587);
ylab('<i>i</i>&nbsp; (μA)', 219, 738);
ylab("COF", 223, 938);
ylab('log |<i>i</i> (μA·cm<sup class="s">-2</sup>)|', 225, 1088, 22);
ylab('Potential (V<sub class="b">Ag/AgCl</sub>)', 748, 300);
ylab('<i>i</i> &nbsp;(μA·cm<sup class="s">-2</sup>)', 748, 660);
ylab("COF", 753, 1020);
xlab("Time&nbsp; (s)", 484, 488);
xlab("Time&nbsp; (s)", 493, 848);
xlab('Potential (V<sub class="b">Ag/AgCl</sub>)', 500, 1209);
const plab = (s, x, y) => html(s, `left:${x}px;top:${y}px;font-size:29px;`, "ser ctr");
plab("(a)", 218, 157); plab("(b)", 218, 522); plab("(c)", 218, 877);
plab("(d)", 748, 157); plab("(e)", 748, 519); plab("(f)", 748, 877);

// ---------------- PAGE TEXT ----------------
html("H. Zhang, H. Cui, X. Song et al.", "left:90px;top:84px;font-size:16px;font-style:italic;", "txt");
html("Journal of Materials Science &amp; Technology 190 (2024) 76–92", "right:90px;top:84px;font-size:16px;font-style:italic;", "txt");

function jline(s, x, w, yc, last, fs, lh) {
  const d = document.createElement("div");
  d.className = "jl txt" + (last ? " last" : "");
  lh = lh || 25;
  d.style.cssText = `left:${x}px;top:${yc - lh / 2}px;width:${w}px;line-height:${lh}px;` + (fs ? `font-size:${fs}px;` : "");
  d.innerHTML = s; page.appendChild(d);
  let ls = 0;
  while (!last && d.scrollHeight > lh * 1.5 && ls > -2) { ls -= 0.1; d.style.letterSpacing = ls + "px"; }
  return d;
}
const IND = '<span style="display:inline-block;width:28px"></span>';
jline('<b>Fig. 11.</b> Electrochemical test curve and corresponding COF value of LDED-built composite coating under different conditions: (a) OCP; (b) Potentiostatic polarization of', 90, 1248, 1245, false, 15, 20);
jline('0.2V<sub class="s">OCP</sub>; (c) Potentiodynamic polarization; (d) OCP values before, during and after wear; (e) Passivation current density; (f) Value of COF under different conditions.', 90, 1248, 1267, true, 15, 20);

const L = 90, R = 736, CW = 602;
const leftLines = [
  ["comparison, Al, V, and Mo elements exhibit very low grain growth", 1332],
  ["restriction factors (<i>Q</i> &lt; 2 K), indicating that the effect on grain re-", 1357],
  ["finement is limited. Therefore, with the addition of more Cu ele-", 1382],
  ["ments, more Cu is enriched at the solidification front, resulting in", 1407],
  ["a larger subcooling area of the composition and the formation of", 1432],
  ["fine <i>β</i> grains containing Mo-rich and Cu-rich.", 1457, 1],
  ["<i>4.2. Toughening mechanism</i>", 1502, 1],
  [IND + 'As shown in <span class="lk">Figs. 8</span> and <span class="lk">9</span>, the toughness of LDED-built com-', 1552],
  ["posite coating is enhanced with increasing Cu content. The main", 1577],
  ["reasons are stated as follows: the refinement of grain size, the pre-", 1602],
  ["cipitation strengthening of nanoscale TiB phases, and the increase", 1627],
  ["of dislocation density.", 1653, 1],
  [IND + "The addition of Cu can significantly refine <i>β</i> grains in the com-", 1678],
  ['posite coating, thereby increasing the grain boundary area (<span class="lk">Fig. 5</span>).', 1703],
  ["Zhang et al. reported that more grain boundaries can hinder the", 1728],
  ["dislocation movement, resulting in stronger stress concentration", 1753],
  ["and improving the strength and toughness of composite coating", 1779]
];
leftLines.forEach(([s, y, last]) => jline(s, L, CW, y, !!last));
const rightLines = [
  ['<span class="lk">[16]</span>. The grain boundary strengthening effect (Δ<i>σ</i><sub class="s">GB</sub>) caused by Cu', 1332],
  ['addition can be estimated through <span class="lk">[54]</span>:', 1357, 1],
  ['where <i>k</i> is the Hall-Petch coefficient, <i>k</i> = 191.7 MPa <i>μ</i>m<sup class="s">1/2</sup> [<span class="lk">55</span>,<span class="lk">56</span>],', 1469],
  ["and <i>d</i> represents the average grain size. The grain size of 4Cu and", 1495],
  ['16Cu composite coatings is reduced from 11 <i>μ</i>m to 2 <i>μ</i>m (<span class="lk">Fig. 2</span>),', 1519],
  ["resulting in a corresponding increase in strength by 77.67 MPa.", 1545, 1],
  [IND + "The increase in strength can also be attributed to the presence", 1569],
  ['of nanoscale TiB <span class="lk">[39]</span>, which strengthens the matrix by impeding', 1594],
  ["dislocation movement. Jiang et al. reported that the strengthen-", 1620],
  ["ing effect of coherent precipitates with extremely fine size and", 1644],
  ['high quantity density was more obvious <span class="lk">[24]</span>. The precipitation', 1670],
  ["strengthening caused by TiB can be estimated as follows:", 1694, 1]
];
rightLines.forEach(([s, y, last]) => jline(s, R, CW, y, !!last));

// equations
html('Δ<i>σ</i><sub class="s">GB</sub> = <i>kd</i><sup style="font-size:11px;vertical-align:0.7em">−</sup><span class="sfr"><span>1</span><span>2</span></span>', "left:736px;top:1399px;", "eq");
html("(11)", "right:90px;top:1399px;", "eq");
html('<span>Δ<i>σ</i><sub class="s">Orowan,TiB<sub style="font-size:80%">2</sub></sub></span><span style="margin:0 6px">=</span>' +
  '<span class="frac"><span><i>ϕG</i><sub class="s">m</sub><i>b</i></span><span><i>d</i><sub class="s">TiB</sub></span></span>' +
  '<span style="font-size:46px;line-height:46px;font-weight:200;transform:scaleY(1.15);display:inline-block">(</span>' +
  '<span class="frac"><span>6<i>V</i><sub class="s">TiB</sub></span><span><i>π</i></span></span>' +
  '<span style="font-size:46px;line-height:46px;font-weight:200;transform:scaleY(1.15);display:inline-block">)</span>' +
  '<span class="sfr" style="vertical-align:2.2em"><span>1</span><span>3</span></span>',
  "left:736px;top:1737px;display:flex;align-items:center;height:60px;", "eq");
html("(12)", "right:90px;top:1754px;", "eq");
html("87", "left:714px;top:1829px;font-size:15px;", "txt ctr");
</script></body></html>
